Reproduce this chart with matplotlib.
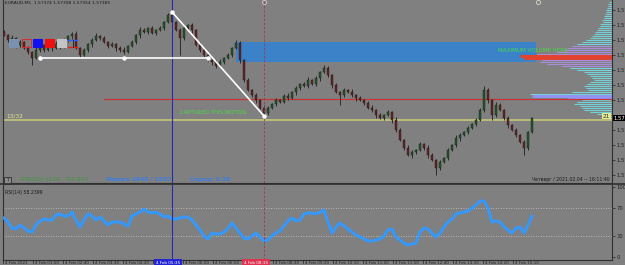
import numpy as np
import matplotlib
matplotlib.use("Agg")
import matplotlib.pyplot as plt
from matplotlib.patches import Rectangle
from matplotlib.transforms import blended_transform_factory as blend

# ---------------- data ----------------
symbol = "EURAUD,M5"
header_ohlc = "1.57374 1.57398 1.57354 1.57385"

close = [1.57695, 1.57680, 1.57686, 1.57665, 1.57674, 1.57656, 1.57644, 1.57626, 1.57650, 1.57665,
         1.57650, 1.57674, 1.57656, 1.57668, 1.57659, 1.57680, 1.57692, 1.57698, 1.57656, 1.57635,
         1.57650, 1.57668, 1.57680, 1.57692, 1.57686, 1.57674, 1.57662, 1.57668, 1.57656, 1.57650,
         1.57644, 1.57662, 1.57674, 1.57695, 1.57710, 1.57704, 1.57716, 1.57701, 1.57710, 1.57716,
         1.57734, 1.57755, 1.57734, 1.57710, 1.57686, 1.57716, 1.57725, 1.57710, 1.57665, 1.57650,
         1.57635, 1.57620, 1.57614, 1.57602, 1.57614, 1.57626, 1.57635, 1.57656, 1.57671, 1.57620,
         1.57560, 1.57530, 1.57515, 1.57500, 1.57476, 1.57461, 1.57476, 1.57488, 1.57500, 1.57494,
         1.57512, 1.57506, 1.57524, 1.57536, 1.57548, 1.57542, 1.57560, 1.57548, 1.57566, 1.57584,
         1.57596, 1.57575, 1.57545, 1.57524, 1.57515, 1.57530, 1.57524, 1.57515, 1.57506, 1.57500,
         1.57491, 1.57476, 1.57470, 1.57455, 1.57446, 1.57455, 1.57464, 1.57440, 1.57410, 1.57380,
         1.57356, 1.57335, 1.57344, 1.57350, 1.57368, 1.57356, 1.57335, 1.57320, 1.57296, 1.57314,
         1.57326, 1.57350, 1.57365, 1.57386, 1.57395, 1.57404, 1.57416, 1.57428, 1.57440, 1.57470,
         1.57530, 1.57500, 1.57455, 1.57485, 1.57470, 1.57446, 1.57425, 1.57410, 1.57395, 1.57374,
         1.57356, 1.57404, 1.57446]
first_open = 1.57704

# wick extensions in points (0.00001)
wick_hi = [6, 3, 9, 3, 6, 3, 6, 3, 9, 6,
           3, 6, 3, 9, 3, 6, 3, 6, 9, 3,
           6, 3, 6, 9, 3, 6, 3, 6, 3, 6,
           9, 3, 6, 3, 9, 6, 3, 6, 3, 6,
           3, 6, 9, 3, 6, 9, 3, 6, 3, 9,
           3, 6, 3, 6, 9, 3, 6, 3, 9, 6,
           3, 6, 3, 6, 3, 9, 6, 3, 6, 3,
           6, 9, 3, 6, 3, 6, 9, 3, 6, 3,
           9, 6, 3, 6, 3, 6, 3, 9, 3, 6,
           3, 6, 9, 3, 6, 3, 6, 3, 9, 6,
           3, 9, 6, 3, 6, 3, 9, 6, 3, 6,
           3, 6, 3, 9, 6, 3, 6, 3, 6, 6,
           12, 6, 3, 9, 6, 3, 6, 3, 6, 3,
           6, 3, 3]
wick_lo = [3, 6, 3, 9, 6, 3, 6, 21, 3, 6,
           6, 3, 9, 3, 6, 3, 6, 9, 3, 6,
           3, 6, 9, 3, 6, 3, 6, 3, 9, 6,
           6, 3, 3, 6, 9, 3, 6, 3, 6, 3,
           6, 3, 6, 3, 51, 6, 3, 9, 3, 6,
           6, 3, 9, 6, 3, 6, 3, 6, 3, 9,
           6, 3, 6, 9, 3, 9, 6, 3, 6, 3,
           3, 6, 3, 9, 6, 3, 6, 3, 6, 9,
           3, 6, 9, 3, 30, 6, 3, 6, 9, 3,
           6, 3, 6, 9, 3, 6, 3, 9, 6, 3,
           6, 3, 9, 6, 3, 6, 9, 3, 21, 6,
           3, 6, 3, 6, 9, 3, 6, 3, 6, 3,
           6, 9, 15, 6, 3, 6, 9, 3, 6, 3,
           21, 6, 3]

rsi = [55.7, 50.0, 41.4, 40.0, 45.7, 41.4, 37.1, 35.7, 45.7, 51.4,
       54.3, 52.9, 52.9, 60.0, 61.4, 58.6, 58.6, 64.3, 52.9, 42.9,
       52.9, 61.4, 58.6, 52.9, 57.1, 51.4, 45.7, 50.0, 50.0, 50.0,
       47.1, 44.3, 58.6, 61.4, 64.3, 68.6, 64.3, 62.9, 64.3, 61.4,
       57.1, 58.6, 54.3, 54.3, 55.7, 57.1, 57.1, 52.9, 45.7, 38.6,
       30.0, 25.7, 34.3, 32.9, 32.9, 35.7, 40.0, 48.6, 41.4, 34.3,
       27.1, 25.7, 30.0, 34.3, 28.6, 22.9, 24.3, 30.0, 34.3, 37.1,
       44.3, 51.4, 55.7, 51.4, 52.9, 61.4, 62.9, 62.9, 61.4, 64.3,
       67.1, 50.0, 34.3, 42.9, 48.6, 44.3, 40.0, 35.7, 31.4, 28.6,
       25.7, 22.9, 22.9, 24.3, 25.7, 30.0, 38.6, 40.0, 28.6, 24.3,
       20.0, 17.1, 18.6, 20.0, 35.7, 41.4, 40.0, 34.3, 28.6, 34.3,
       42.9, 50.0, 54.3, 61.4, 62.9, 64.3, 65.7, 70.0, 74.3, 80.0,
       80.0, 70.0, 50.0, 51.4, 50.0, 42.9, 38.6, 34.3, 41.4, 42.9,
       34.3, 45.7, 58.2]
rsi_label = "RSI(14) 58.2399"
rsi_levels = [30, 70]

# drawn objects / levels
range_low = 1.57626
range_start, range_end = 9, 51
res_level, res_start = 1.57503, 25
yellow_level = 1.57440
zone_lo, zone_hi = 1.57614, 1.57674
zone_start, zone_end = 58, 133

# volume profile (bins from top of chart downwards), lengths in pixels
profile_top, profile_step = 1.57794, 0.00006
profile_vol = [3, 4, 4, 5, 6, 6, 7, 8, 8, 10,
               9, 12, 12, 14, 15, 17, 18, 20, 22, 26,
               30, 35, 40, 45, 48, 55, 75, 92, 88, 70,
               72, 65, 50, 42, 35, 28, 25, 22, 20, 18,
               22, 25, 28, 26, 24, 40, 82, 80, 45, 30,
               35, 38, 32, 30, 28, 22, 15, 10, 6]
profile_kind = "cccccccccccccccccccccc" + "ppppp" + "rr" + "pppp" + "cccccccccccccc" + "bb" + "ccccccccccc"

time_labels = ["4 Feb 2021", "4 Feb 01:50", "4 Feb 02:40", "4 Feb 03:30", "4 Feb 04:20",
               "4 Feb 05:10", "4 Feb 06:00", "4 Feb 06:50", "4 Feb 07:40", "4 Feb 08:30",
               "4 Feb 09:20", "4 Feb 10:10", "4 Feb 11:00", "4 Feb 11:50", "4 Feb 12:40",
               "4 Feb 13:30", "4 Feb 14:20", "4 Feb 15:10"]
vline_blue_label = "4 Feb 05:35"
vline_red_label = "4 Feb 08:15"

info_atr = "ATR(20) 1129   %0 943"
info_margin = "Маржа 2640 / 1320"
info_spread = "Спред: 0.28"
clock_text = "Четверг / 2021.02.04 -- 16:11:40"

# ---------------- figure ----------------
W, H = 625, 265
BG = "#808080"
fig = plt.figure(figsize=(W / 100, H / 100), dpi=100)
fig.patch.set_facecolor(BG)


def fx(x):
    return x / W


def fy(y):
    return 1 - y / H


PX_PER_BAR = 4.0
XMIN = -0.25
XMAX = XMIN + (612 - 3) / PX_PER_BAR
PRICE_TOP = 1.5780
PRICE_PER_PX = 0.00003

ax = fig.add_axes([fx(3), fy(183), (612 - 3) / W, 183 / H])
ax2 = fig.add_axes([fx(3), fy(260), (612 - 3) / W, (260 - 185) / H])
for a in (ax, ax2):
    a.set_facecolor(BG)
    a.set_xlim(XMIN, XMAX)
    for s in a.spines.values():
        s.set_color("#303030")
        s.set_linewidth(0.8)
    a.spines["top"].set_visible(False)
    a.tick_params(axis="x", bottom=False, labelbottom=False)

ax.set_ylim(PRICE_TOP - 183 * PRICE_PER_PX, PRICE_TOP)
ax2.set_ylim(-4.29, 102.86)

n = len(close)
idx = np.arange(n)
c = np.array(close)
o = np.array([first_open] + close[:-1])
hi = np.maximum(o, c) + np.array(wick_hi) * 1e-5
lo = np.minimum(o, c) - np.array(wick_lo) * 1e-5
up = c >= o

# zone
ax.add_patch(Rectangle((zone_start, zone_lo), zone_end - zone_start, zone_hi - zone_lo,
                       facecolor="#3c82c8", edgecolor="none", zorder=1))

# volume profile
kind_col = {"c": "#74d0d6", "p": "#a88ed8", "r": "#e2432e", "b": "#9292f2"}
prof_price = profile_top - profile_step * np.arange(len(profile_vol))
for p, v, k in zip(prof_price, profile_vol, profile_kind):
    lw = 2.2 if k in "rb" else 0.8
    ax.hlines(p, XMAX - v / PX_PER_BAR, XMAX, color=kind_col[k], lw=lw, zorder=2)

# horizontal levels
ax.axhline(yellow_level, color="#cccc7a", lw=1.1, zorder=2)
ax.plot([res_start, XMAX], [res_level, res_level], color="#c83434", lw=0.9, zorder=2)

# candles
ax.vlines(idx, lo, hi, color="#1c1c1c", lw=0.6, zorder=3)
body_h = np.maximum(np.abs(c - o), 0.00002)
ax.bar(idx, body_h, bottom=np.minimum(o, c), width=0.6,
       color=np.where(up, "#1f5a28", "#6a2222"), edgecolor="#1c1c1c", linewidth=0.3, zorder=4)

# vertical lines
swing_hi = int(np.argmax(hi))
swing_lo = swing_hi + int(np.argmin(lo[swing_hi:swing_hi + 40]))
for a in (ax, ax2):
    a.axvline(swing_hi, color="#2a2aa8", lw=0.8, zorder=5)
    a.axvline(swing_lo, color="#a03848", lw=0.6, ls=(0, (3, 2)), zorder=5)
ax.plot([swing_lo], [PRICE_TOP - 2 * PRICE_PER_PX], marker="o", ms=3, mfc="none", mec="#d8c8c8", mew=0.6, zorder=6, clip_on=False)
ax.plot([zone_end + 0.5], [PRICE_TOP - 2 * PRICE_PER_PX], marker="o", ms=3, mfc="none", mec="#d8d8c0", mew=0.6, zorder=6, clip_on=False)

# white drawn lines
ax.plot([range_start, range_end], [range_low, range_low], color="white", lw=1.2, zorder=6)
ax.plot([range_start, (range_start + range_end) / 2, range_end], [range_low] * 3, "o", color="white", ms=2.2, zorder=7)
ax.plot([swing_hi, swing_lo], [hi[swing_hi], lo[swing_lo]], color="white", lw=1.2, zorder=6)
ax.plot([swing_hi, swing_lo], [hi[swing_hi], lo[swing_lo]], "o", color="white", ms=2.2, zorder=7)

# price axis on right
ax.yaxis.tick_right()
ticks = np.arange(PRICE_TOP - 0.0003, PRICE_TOP - 183 * PRICE_PER_PX, -0.00045)
ticks = ticks[np.abs(ticks - c[-1]) > 0.00012]
ax.set_yticks(ticks)
ax.set_yticklabels([f"{t:.5f}" for t in ticks])
ax.tick_params(axis="y", labelsize=3.8, colors="#202020", length=2, width=0.5, pad=1)
ax.text(1.003, c[-1], f"{c[-1]:.5f}", transform=blend(ax.transAxes, ax.transData),
        fontsize=3.8, color="white", va="center", ha="left",
        bbox=dict(boxstyle="square,pad=0.15", fc="black", ec="none"), clip_on=False, zorder=8)

# RSI
ax2.plot(idx, rsi, color="#3399ff", lw=2.1, zorder=3, solid_joinstyle="round")
for lv in rsi_levels:
    ax2.axhline(lv, color="#c8c8c8", lw=0.6, ls=(0, (1, 2)), zorder=2)
ax2.yaxis.tick_right()
ax2.set_yticks([0, 30, 70, 100])
ax2.set_yticklabels(["0", "30", "70", "100"])
ax2.tick_params(axis="y", labelsize=3.8, colors="#202020", length=2, width=0.5, pad=1)
ax2.text(0.004, 0.93, rsi_label, transform=ax2.transAxes, fontsize=3.3, color="#1a1a1a", va="top")

# separator between panes
fig.add_artist(plt.Line2D([fx(0), fx(625)], [fy(184), fy(184)], color="#303030", lw=1.2))

# time axis labels
tb = blend(ax2.transData, fig.transFigure)
tick_pos = XMIN + 7.5 * np.arange(len(time_labels))
for tp, lab in zip(tick_pos, time_labels):
    xf = fig.transFigure.inverted().transform(ax2.transData.transform((tp, 0)))[0]
    fig.add_artist(plt.Line2D([xf, xf], [fy(260), fy(263)], color="#202020", lw=0.5))
    fig.text(tp + 0.5, fy(260.8), lab, transform=tb, fontsize=3.0, color="#202020", va="top", ha="left")
fig.text(swing_hi - 4, fy(260.8), vline_blue_label, transform=tb, fontsize=3.0, color="white",
         va="top", ha="left", bbox=dict(boxstyle="square,pad=0.4", fc="#2424d4", ec="none"), zorder=9)
fig.text(swing_lo - 5, fy(260.8), vline_red_label, transform=tb, fontsize=3.0, color="white",
         va="top", ha="left", bbox=dict(boxstyle="square,pad=0.4", fc="#e03352", ec="none"), zorder=9)

# header and UI objects
fig.text(fx(5), fy(3.5), f"{symbol}  {header_ohlc}", fontsize=3.2, color="#1a1a1a", va="center")
ui = [(9, "#7a92b0", "#7a92b0"), (22, "none", "#d03030"), (33, "#1010f0", "#1010f0"),
      (45, "#f01010", "#f01010"), (57, "#c4c4c4", "#c4c4c4")]
for x0, fc, ec in ui:
    fig.add_artist(Rectangle((fx(x0), fy(47)), 8.5 / W, 8.5 / H, transform=fig.transFigure,
                             facecolor=fc, edgecolor=ec, lw=0.8))
fig.add_artist(plt.Line2D([fx(68), fx(77)], [fy(39.5), fy(39.5)], color="#3060ff", lw=1.0))
fig.add_artist(plt.Line2D([fx(68), fx(77)], [fy(46.5), fy(46.5)], color="#e02020", lw=1.0))
fig.add_artist(plt.Line2D([fx(72.5), fx(72.5)], [fy(39.5), fy(46.5)], color="#202020", lw=0.6))

# annotation texts
fig.text(fx(498), fy(50.5), "MAXIMUM VOLUME HERE", fontsize=4.1, color="#44dd44", va="center", zorder=9)
fig.text(fx(180), fy(113), "CAPTURED THIS MOTION", fontsize=3.9, color="#44dd44", va="center", zorder=9)
fig.text(fx(6), fy(116.5), "13/32", fontsize=4.2, color="#e6e690", va="center")
fig.text(fx(610), fy(116), "21", fontsize=4.2, color="#303030", va="center", ha="right",
         bbox=dict(boxstyle="square,pad=0.1", fc="#e8e890", ec="none"))

# info line
fig.add_artist(Rectangle((fx(4), fy(184)), 7 / W, 7 / H, transform=fig.transFigure,
                         facecolor="#8a8a8a", edgecolor="#202020", lw=0.5))
fig.text(fx(7.5), fy(180.5), "?", fontsize=3.5, color="#202020", va="center", ha="center")
fig.text(fx(20), fy(180), info_atr, fontsize=4.2, color="#3a9a3a", va="center")
fig.text(fx(106), fy(180), info_margin, fontsize=4.2, color="#3b7ee6", va="center", fontweight="bold")
fig.text(fx(190), fy(180), info_spread, fontsize=4.2, color="#3b7ee6", va="center", fontweight="bold")
fig.text(fx(610), fy(180), clock_text, fontsize=3.3, color="#1a1a1a", va="center", ha="right")

fig.savefig("out.png", dpi=100, facecolor=BG)
